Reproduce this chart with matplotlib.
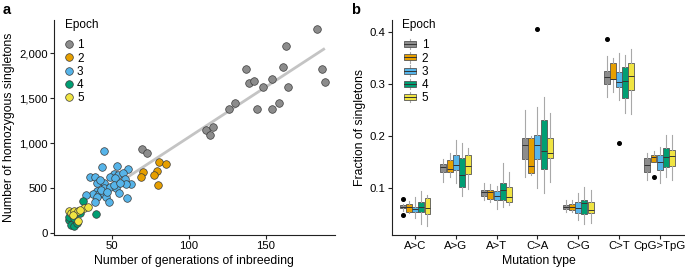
import numpy as np
import matplotlib
matplotlib.use("Agg")
from matplotlib import pyplot as plt
from matplotlib.lines import Line2D
from matplotlib.patches import Rectangle, Patch
from matplotlib.legend_handler import HandlerBase
from matplotlib.ticker import FuncFormatter

plt.rcParams['font.family'] = ['Liberation Sans', 'DejaVu Sans']
plt.rcParams['font.size'] = 8

# ---- panel a data: generations vs homozygous singletons, per epoch
gen_e1 = [183.5, 163.2, 186.4, 188.5, 161.5, 154.1, 164.3, 137.2, 139.0, 142.4, 148.5,
          144.2, 154.3, 158.4, 126.0, 130.3, 111.0, 116.0, 114.1, 69.9, 72.9]
sng_e1 = [2266, 2081, 1822, 1681, 1844, 1718, 1622, 1822, 1667, 1689, 1622,
          1385, 1385, 1452, 1385, 1452, 1149, 1178, 1093, 942, 890]
gen_e2 = [81.0, 85.1, 70.1, 68.8, 79.2, 77.7, 80.1]
sng_e2 = [794, 771, 683, 623, 690, 653, 535]
gen_e3 = [44.8, 43.5, 53.7, 60.9, 35.8, 39.0, 51.4, 54.2, 57.3, 49.1, 52.4, 58.4,
          62.5, 59.3, 44.7, 40.3, 45.1, 48.6, 52.7, 40.3, 37.7, 33.4, 41.8, 45.3,
          54.8, 40.3, 46.3, 39.0, 48.1, 60.0, 42.9, 46.8, 51.6, 55.5, 42.4]
sng_e3 = [919, 734, 753, 714, 627, 630, 660, 653, 668, 623, 620, 605,
          553, 546, 557, 557, 501, 520, 509, 475, 438, 427, 435, 435,
          446, 401, 401, 353, 353, 390, 482, 464, 538, 564, 593]
gen_e4 = [31.6, 39.9, 29.7, 22.1, 23.8, 25.8, 23.7, 25.8, 27.5, 22.1, 25.3]
sng_e4 = [361, 220, 224, 150, 187, 131, 94, 83, 113, 187, 168]
gen_e5 = [22.1, 23.8, 25.8, 27.9, 24.9, 32.1, 34.3, 27.9, 29.7]
sng_e5 = [253, 224, 253, 250, 205, 279, 298, 142, 261]

# regression line as shown in the figure
fit_slope = 11.15
fit_icpt = -47
fit_from, fit_to = 50, 188.5

epochs = ['1', '2', '3', '4', '5']
colors = ['#8c8c8c', '#E69F00', '#56B4E9', '#009E73', '#F0E442']

# ---- panel b data: box statistics per mutation type, one list per epoch
mut_types = ['A>C', 'A>G', 'A>T', 'C>A', 'C>G', 'C>T', 'CpG>TpG']
q1 = [[0.0615, 0.131, 0.0859, 0.1558, 0.0596, 0.300, 0.132],
      [0.0545, 0.1314, 0.0795, 0.130, 0.0583, 0.311, 0.1513],
      [0.0538, 0.1353, 0.0776, 0.1558, 0.052, 0.2942, 0.1353],
      [0.0545, 0.1032, 0.0776, 0.1365, 0.050, 0.2744, 0.1404],
      [0.050, 0.127, 0.0737, 0.159, 0.052, 0.289, 0.1436]]
med = [[0.0647, 0.1417, 0.0936, 0.1827, 0.064, 0.3147, 0.1449],
       [0.0635, 0.138, 0.0936, 0.1436, 0.0647, 0.311, 0.160],
       [0.0596, 0.1442, 0.0853, 0.1833, 0.0615, 0.305, 0.1513],
       [0.0647, 0.1256, 0.0968, 0.1718, 0.0712, 0.3064, 0.161],
       [0.0615, 0.143, 0.0827, 0.1686, 0.0583, 0.316, 0.1628]]
q3 = [[0.0673, 0.146, 0.0968, 0.1974, 0.0686, 0.3256, 0.1577],
      [0.0692, 0.1545, 0.0968, 0.1974, 0.0705, 0.3404, 0.1650],
      [0.0647, 0.1647, 0.0949, 0.2026, 0.0731, 0.3244, 0.164],
      [0.0744, 0.1577, 0.1096, 0.2314, 0.0776, 0.334, 0.177],
      [0.082, 0.1635, 0.1019, 0.1974, 0.0744, 0.3404, 0.1737]]
wlo = [[0.057, 0.1128, 0.0776, 0.1224, 0.0545, 0.2763, 0.116],
       [0.052, 0.1224, 0.0744, 0.1256, 0.0545, 0.286, 0.1513],
       [0.042, 0.111, 0.0596, 0.100, 0.039, 0.270, 0.111],
       [0.0314, 0.0853, 0.0647, 0.0917, 0.0314, 0.2442, 0.1224],
       [0.0276, 0.098, 0.068, 0.1128, 0.034, 0.243, 0.116]]
whi = [[0.070, 0.156, 0.111, 0.2506, 0.0776, 0.3545, 0.167],
       [0.0756, 0.1686, 0.1077, 0.200, 0.077, 0.350, 0.172],
       [0.084, 0.193, 0.105, 0.257, 0.0917, 0.361, 0.180],
       [0.0949, 0.1865, 0.148, 0.275, 0.103, 0.3564, 0.2026],
       [0.087, 0.178, 0.132, 0.2455, 0.0968, 0.369, 0.2026]]
# outliers: (mutation index, epoch index, value)
outliers = [(0, 0, 0.080), (0, 0, 0.0487), (3, 2, 0.4058),
            (5, 0, 0.3872), (5, 2, 0.1878), (6, 1, 0.1224)]


class BoxHandler(HandlerBase):
    def create_artists(self, legend, orig_handle, xdescent, ydescent,
                       width, height, fontsize, trans):
        w = width * 0.85
        x0 = (width - w) / 2 - xdescent
        y0 = -ydescent + height * 0.1
        h = height * 0.8
        cx = x0 + w / 2
        whisk = Line2D([cx, cx], [-ydescent - height * 0.2, -ydescent + height * 1.2],
                       color='#aaaaaa', lw=0.8, transform=trans)
        rect = Rectangle((x0, y0), w, h, facecolor=orig_handle.get_facecolor(),
                         edgecolor='#555555', lw=0.6, transform=trans)
        mline = Line2D([x0, x0 + w], [y0 + h / 2] * 2, color='#333333', lw=0.7,
                       transform=trans)
        return [whisk, rect, mline]


fig = plt.figure(figsize=(6.85, 2.75), dpi=100)
ax1 = fig.add_axes([0.0788, 0.1455, 0.41, 0.7815])
ax2 = fig.add_axes([0.572, 0.1455, 0.428, 0.7815])

for ax in (ax1, ax2):
    for s in ('top', 'right'):
        ax.spines[s].set_visible(False)
    for s in ('left', 'bottom'):
        ax.spines[s].set_linewidth(0.8)
        ax.spines[s].set_color('#222222')
    ax.tick_params(length=3, width=0.8, color='#222222', labelsize=8.2, pad=1.5)

# ---- panel a
gens = [gen_e1, gen_e2, gen_e3, gen_e4, gen_e5]
sngs = [sng_e1, sng_e2, sng_e3, sng_e4, sng_e5]
xf = np.array([fit_from, fit_to])
ax1.plot(xf, fit_slope * xf + fit_icpt, color='#c4c4c4', lw=2.0, zorder=1,
         solid_capstyle='butt')
for g, s, c in zip(gens, sngs, colors):
    ax1.scatter(g, s, s=30, color=c, edgecolor='#3a3a3a', linewidth=0.5, zorder=3)
ax1.set_xlim(12.5, 195)
ax1.set_ylim(-17, 2370)
ax1.set_xticks([50, 100, 150])
ax1.set_yticks([0, 500, 1000, 1500, 2000])
ax1.yaxis.set_major_formatter(FuncFormatter(lambda v, p: f'{int(v):,}'))
ax1.set_xlabel('Number of generations of inbreeding', fontsize=8.8, labelpad=3)
ax1.set_ylabel('Number of homozygous singletons', fontsize=8.8, labelpad=3)
h1 = [Line2D([], [], marker='o', ls='', markersize=5.5, markerfacecolor=c,
             markeredgecolor='#3a3a3a', markeredgewidth=0.5) for c in colors]
leg1 = ax1.legend(h1, epochs, title='Epoch', loc='upper left',
                  bbox_to_anchor=(0.0, 1.055), frameon=False, fontsize=8.5,
                  title_fontsize=8.5, handlelength=0.8, handletextpad=0.25,
                  labelspacing=0.11, alignment='left')
leg1._legend_box.sep = 6

# ---- panel b
pos = np.arange(len(mut_types))
step = 0.152
for e in range(len(epochs)):
    stats = []
    for m in range(len(mut_types)):
        fl = [v for (mi, ei, v) in outliers if mi == m and ei == e]
        stats.append(dict(q1=q1[e][m], med=med[e][m], q3=q3[e][m],
                          whislo=wlo[e][m], whishi=whi[e][m], fliers=fl))
    ax2.bxp(stats, positions=pos + (e - 2) * step, widths=0.145,
            patch_artist=True, showcaps=False, manage_ticks=False,
            boxprops=dict(facecolor=colors[e], edgecolor='#555555', lw=0.6),
            medianprops=dict(color='#333333', lw=0.7),
            whiskerprops=dict(color='#a8a8a8', lw=0.8),
            flierprops=dict(marker='o', markersize=2.6, markerfacecolor='black',
                            markeredgecolor='black'))
ax2.set_xlim(-0.57, 6.62)
ax2.set_ylim(0.0102, 0.4237)
ax2.set_xticks(pos)
ax2.set_xticklabels(mut_types)
ax2.set_yticks([0.1, 0.2, 0.3, 0.4])
ax2.set_xlabel('Mutation type', fontsize=8.8, labelpad=3)
ax2.set_ylabel('Fraction of singletons', fontsize=8.8, labelpad=3)
h2 = [Patch(facecolor=c) for c in colors]
leg2 = ax2.legend(h2, epochs, title='Epoch', loc='upper left',
                  bbox_to_anchor=(0.0, 1.055), frameon=False, fontsize=8.5,
                  title_fontsize=8.5, handlelength=1.2, handleheight=0.6,
                  handletextpad=0.45, labelspacing=0.11, alignment='left',
                  handler_map={Patch: BoxHandler()})
leg2._legend_box.sep = 6

fig.text(0.004, 0.99, 'a', fontsize=10.5, fontweight='bold', va='top')
fig.text(0.512, 0.99, 'b', fontsize=10.5, fontweight='bold', va='top')

fig.savefig('out.png', dpi=100)
